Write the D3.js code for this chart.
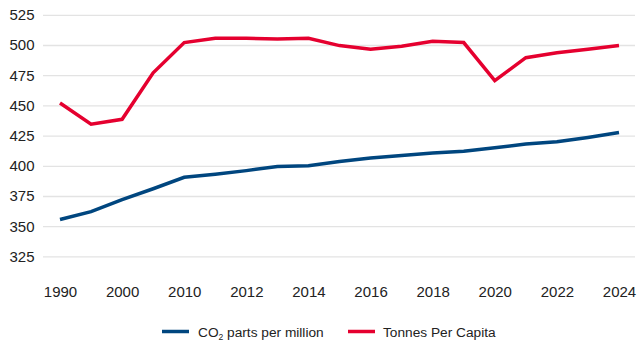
<!DOCTYPE html>
<html><head><meta charset="utf-8">
<script src="https://cdn.jsdelivr.net/npm/d3@7"></script>
<style>body{margin:0;background:#fff}svg{display:block;font-family:"Liberation Sans",Arial,sans-serif}</style>
</head><body><svg id="c" width="639" height="342"></svg>
<script>
const years = ["1990","1995","2000","2005","2010","2011","2012","2013","2014","2015","2016","2017","2018","2019","2020","2021","2022","2023","2024"];
const co2 = [355.5,362,372,381,390.5,393,396,399.5,400,403.5,406.5,408.5,410.5,412,415,418,420,423.5,427.5];
const tonnes = [452,434.5,438.5,477,502,505.5,505.5,505,505.5,499.5,496.5,499,503,502,470.5,489.5,493.5,496.5,499.5];
const yTicks = [325,350,375,400,425,450,475,500,525];
const xLabels = ["1990","2000","2010","2012","2014","2016","2018","2020","2022","2024"];
const seriesNames = ["CO₂ parts per million","Tonnes Per Capita"];
const colors = ["#00467F","#E5002F"];

const svg = d3.select("#c");
const x = d3.scalePoint().domain(years).range([60,619]);
const y = d3.scaleLinear().domain([325,525]).range([256.4,14.8]);

const yAxis = d3.axisLeft(y).tickValues(yTicks).tickSize(-592).tickPadding(9).tickFormat(d3.format("d"));
const gy = svg.append("g").attr("transform","translate(43,0)").call(yAxis);
gy.select(".domain").remove();
gy.selectAll(".tick line").attr("stroke","#e3e3e3").attr("stroke-width",1.3);
gy.selectAll(".tick text").attr("font-size",15).attr("fill","#222").attr("x",-8.5);

const xAxis = d3.axisBottom(x).tickValues(xLabels).tickSize(0).tickPadding(0);
const gx = svg.append("g").attr("transform","translate(0,285)").call(xAxis);
gx.select(".domain").remove();
gx.selectAll(".tick text").attr("font-size",15).attr("fill","#222").attr("dy","0.8em");

const line = d3.line().x((d,i)=>x(years[i])).y(d=>y(d));
[co2,tonnes].forEach((s,k)=>{
  svg.append("path").datum(s).attr("d",line).attr("fill","none")
    .attr("stroke",colors[k]).attr("stroke-width",3.5).attr("stroke-linejoin","miter");
});

const leg = svg.append("g").attr("font-size",13.7).attr("fill","#222");
const items = [{x:162},{x:348}];
items.forEach((it,k)=>{
  leg.append("line").attr("x1",it.x).attr("x2",it.x+27).attr("y1",331.5).attr("y2",331.5)
    .attr("stroke",colors[k]).attr("stroke-width",3.5);
});
const t0 = leg.append("text").attr("x",198).attr("y",336.5).attr("fill","#222");
t0.append("tspan").text("CO");
t0.append("tspan").text("2").attr("font-size",8.5).attr("dy",3);
t0.append("tspan").text(" parts per million").attr("dy",-3);
leg.append("text").attr("x",383).attr("y",336.5).attr("fill","#222").text(seriesNames[1]);
</script></body></html>
